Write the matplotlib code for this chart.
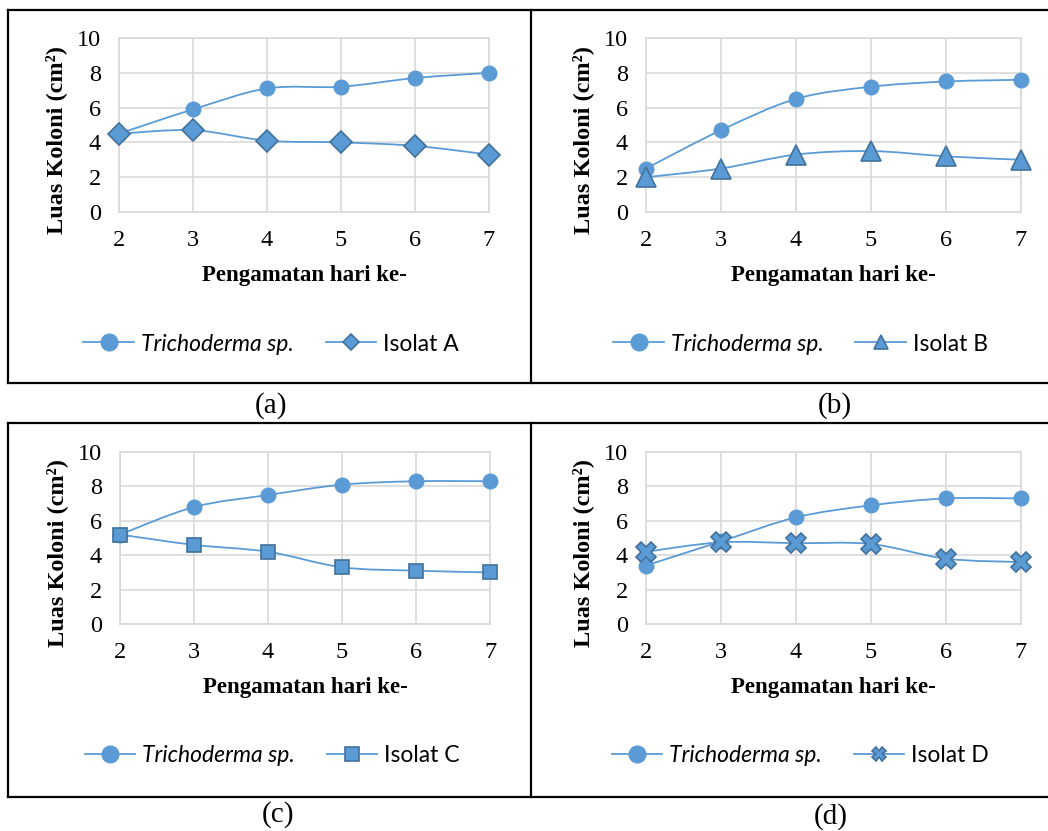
import numpy as np
import matplotlib.pyplot as plt
from matplotlib.path import Path
from matplotlib.patches import PathPatch
from matplotlib.lines import Line2D

# pengamatan hari ke-
days = [2, 3, 4, 5, 6, 7]

# luas koloni (cm2) per panel
tricho_a = [4.5, 5.9, 7.1, 7.2, 7.7, 8.0]
isolat_a = [4.5, 4.7, 4.1, 4.0, 3.8, 3.3]
tricho_b = [2.5, 4.7, 6.5, 7.2, 7.5, 7.6]
isolat_b = [2.0, 2.5, 3.3, 3.5, 3.2, 3.0]
tricho_c = [5.2, 6.8, 7.5, 8.1, 8.3, 8.3]
isolat_c = [5.2, 4.6, 4.2, 3.3, 3.1, 3.0]
tricho_d = [3.4, 4.8, 6.2, 6.9, 7.3, 7.3]
isolat_d = [4.2, 4.75, 4.7, 4.65, 3.8, 3.6]

W, H = 1048, 831
BLUE = "#5B9BD5"
DARK = "#41719C"
GRID = "#D9D9D9"


def smooth_path(x, y):
    # excel-like smoothed line as cubic bezier segments
    p = np.column_stack([x, y]).astype(float)
    ext = np.vstack([p[0], p, p[-1]])
    verts = [p[0]]
    codes = [Path.MOVETO]
    for i in range(len(p) - 1):
        c1 = ext[i + 1] + (ext[i + 2] - ext[i]) / 6
        c2 = ext[i + 2] - (ext[i + 3] - ext[i + 1]) / 6
        verts += [c1, c2, p[i + 1]]
        codes += [Path.CURVE4] * 3
    return Path(verts, codes)


def fx(px):
    return px / W


def fy(py):
    return 1 - py / H


panels = [
    # (trichoderma, isolat, name, marker, ms, legend ms, axes box px, tag, tag pos)
    (tricho_a, isolat_a, "Isolat A", "D", 11, 8, (119, 38, 489, 212), "(a)", (271, 406)),
    (tricho_b, isolat_b, "Isolat B", "^", 14, 10, (646, 38, 1021, 212), "(b)", (835, 406)),
    (tricho_c, isolat_c, "Isolat C", "s", 10, 10, (120, 452, 490, 624), "(c)", (278, 815)),
    (tricho_d, isolat_d, "Isolat D", "X", 14, 10, (646, 452, 1021, 624), "(d)", (831, 817)),
]

fig = plt.figure(figsize=(W / 100, H / 100), dpi=100)

for tri, iso, name, mk, ms, lms, box, tag, tagpos in panels:
    l, t, r, b = box
    ax = fig.add_axes([fx(l), fy(b), (r - l) / W, (b - t) / H])
    ax.set_xlim(2, 7)
    ax.set_ylim(0, 10)
    ax.set_xticks(days)
    ax.set_yticks(range(0, 11, 2))
    ax.grid(True, color=GRID, lw=1.2)
    ax.set_axisbelow(True)
    for s in ax.spines.values():
        s.set_color(GRID)
        s.set_linewidth(1.2)
    ax.tick_params(length=0, labelsize=17.5, pad=13)
    for lab in ax.get_xticklabels() + ax.get_yticklabels():
        lab.set_fontfamily("Liberation Serif")

    ax.add_patch(PathPatch(smooth_path(days, tri), fill=False, ec=BLUE, lw=1.3,
                           clip_on=False, zorder=3))
    ax.plot(days, tri, ls="none", marker="o", ms=10.5, mfc=BLUE, mec=BLUE,
            clip_on=False, zorder=4)
    ax.add_patch(PathPatch(smooth_path(days, iso), fill=False, ec=BLUE, lw=1.3,
                           clip_on=False, zorder=5))
    ax.plot(days, iso, ls="none", marker=mk, ms=ms, mfc=BLUE, mec=DARK, mew=1.2,
            clip_on=False, zorder=6)

    cx = (l + r) / 2
    fig.text(fx(cx), fy(b + 63), "Pengamatan hari ke-", ha="center", va="center",
             family="Liberation Serif", weight="bold", fontsize=16.5)
    fig.text(fx(l - 63), fy((t + b) / 2 + 15), "Luas Koloni (cm²)", rotation=90,
             ha="center", va="center", family="Liberation Serif", weight="bold",
             fontsize=17.5)

    h1 = Line2D([], [], color=BLUE, lw=1.3, marker="o", ms=12, mfc=BLUE, mec=BLUE)
    h2 = Line2D([], [], color=BLUE, lw=1.3, marker=mk, ms=lms, mfc=BLUE, mec=DARK, mew=1.2)
    leg = fig.legend([h1, h2], ["Trichoderma sp.", name], loc="center",
                     bbox_to_anchor=(fx(cx - 33), fy(b + 132)), ncol=2, frameon=False,
                     prop={"family": "Lato", "size": 16.5}, handlelength=2.2,
                     handletextpad=0.3, columnspacing=1.4)
    leg.get_texts()[0].set_style("italic")

    fig.text(fx(tagpos[0]), fy(tagpos[1]), tag, ha="center", va="center",
             family="Liberation Serif", fontsize=21)

# panel borders
for y in [10, 383, 423, 797]:
    fig.add_artist(Line2D([fx(8), 1], [fy(y), fy(y)], color="black", lw=1.6))
for y0, y1 in [(10, 383), (423, 797)]:
    for x in [8, 531]:
        fig.add_artist(Line2D([fx(x), fx(x)], [fy(y0), fy(y1)], color="black", lw=1.6))

plt.savefig("out.png", dpi=100)
